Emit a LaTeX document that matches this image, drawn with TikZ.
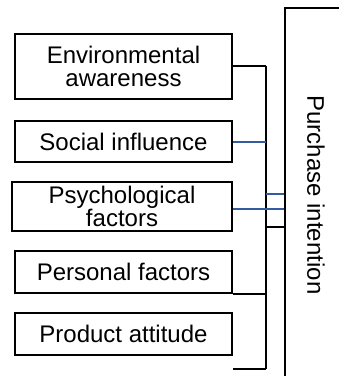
\documentclass[tikz,border=0pt]{standalone}
\usepackage{fontspec}
\setmainfont{Liberation Sans}
\definecolor{linkblue}{RGB}{52,90,160}
\begin{document}
\begin{tikzpicture}
  [x=1pt,y=-1pt,line width=2.2pt,
   every node/.style={font=\fontsize{24}{23.5}\selectfont,align=center,inner sep=0pt}]
  \tikzstyle{factor} = [draw,fill=white,minimum width=217pt]
  \tikzstyle{bluelink} = [draw=linkblue,line width=2pt]
  \useasboundingbox (0,0) rectangle (339,376);
  \clip (0,0) rectangle (339,376);

  % factor boxes on the left
  \node[factor,minimum height=65pt] (env) at (123.5,66.5) {Environmental\\awareness};
  \node[factor,minimum height=41pt] (soc) at (123.5,141.5) {Social influence};
  \node[factor,minimum width=220pt,minimum height=49pt] (psy) at (122,206.5) {Psychological\\factors};
  \node[factor,minimum height=42pt] (per) at (123.5,272) {Personal factors};
  \node[factor,minimum height=42pt] (pro) at (123.5,334) {Product attitude};

  % outcome box, text runs downwards (south is its left side)
  \node[draw,rotate=-90,minimum width=374pt,minimum height=62pt] (pi) at (316,195) {Purchase intention};

  % vertical bus
  \coordinate (top) at (266,66);
  \coordinate (bot) at (266,369);
  \draw (top) -- (bot);

  % factors to bus
  \draw (env.east |- top) -- (top);
  \draw[bluelink] (soc.east) -- (soc.east -| top);
  \draw[bluelink] ([yshift=-2.5pt]psy.east) -- ([yshift=-2.5pt]psy.east -| top);
  \draw (per.south east) -- (per.south east -| top);
  \draw (pro.east |- bot) -- (bot);

  % bus to outcome
  \foreach \y/\s in {194/bluelink,209/bluelink,227/draw}
    \draw[\s] (266,\y) -- (266,\y -| pi.south);

\end{tikzpicture}
\end{document}
